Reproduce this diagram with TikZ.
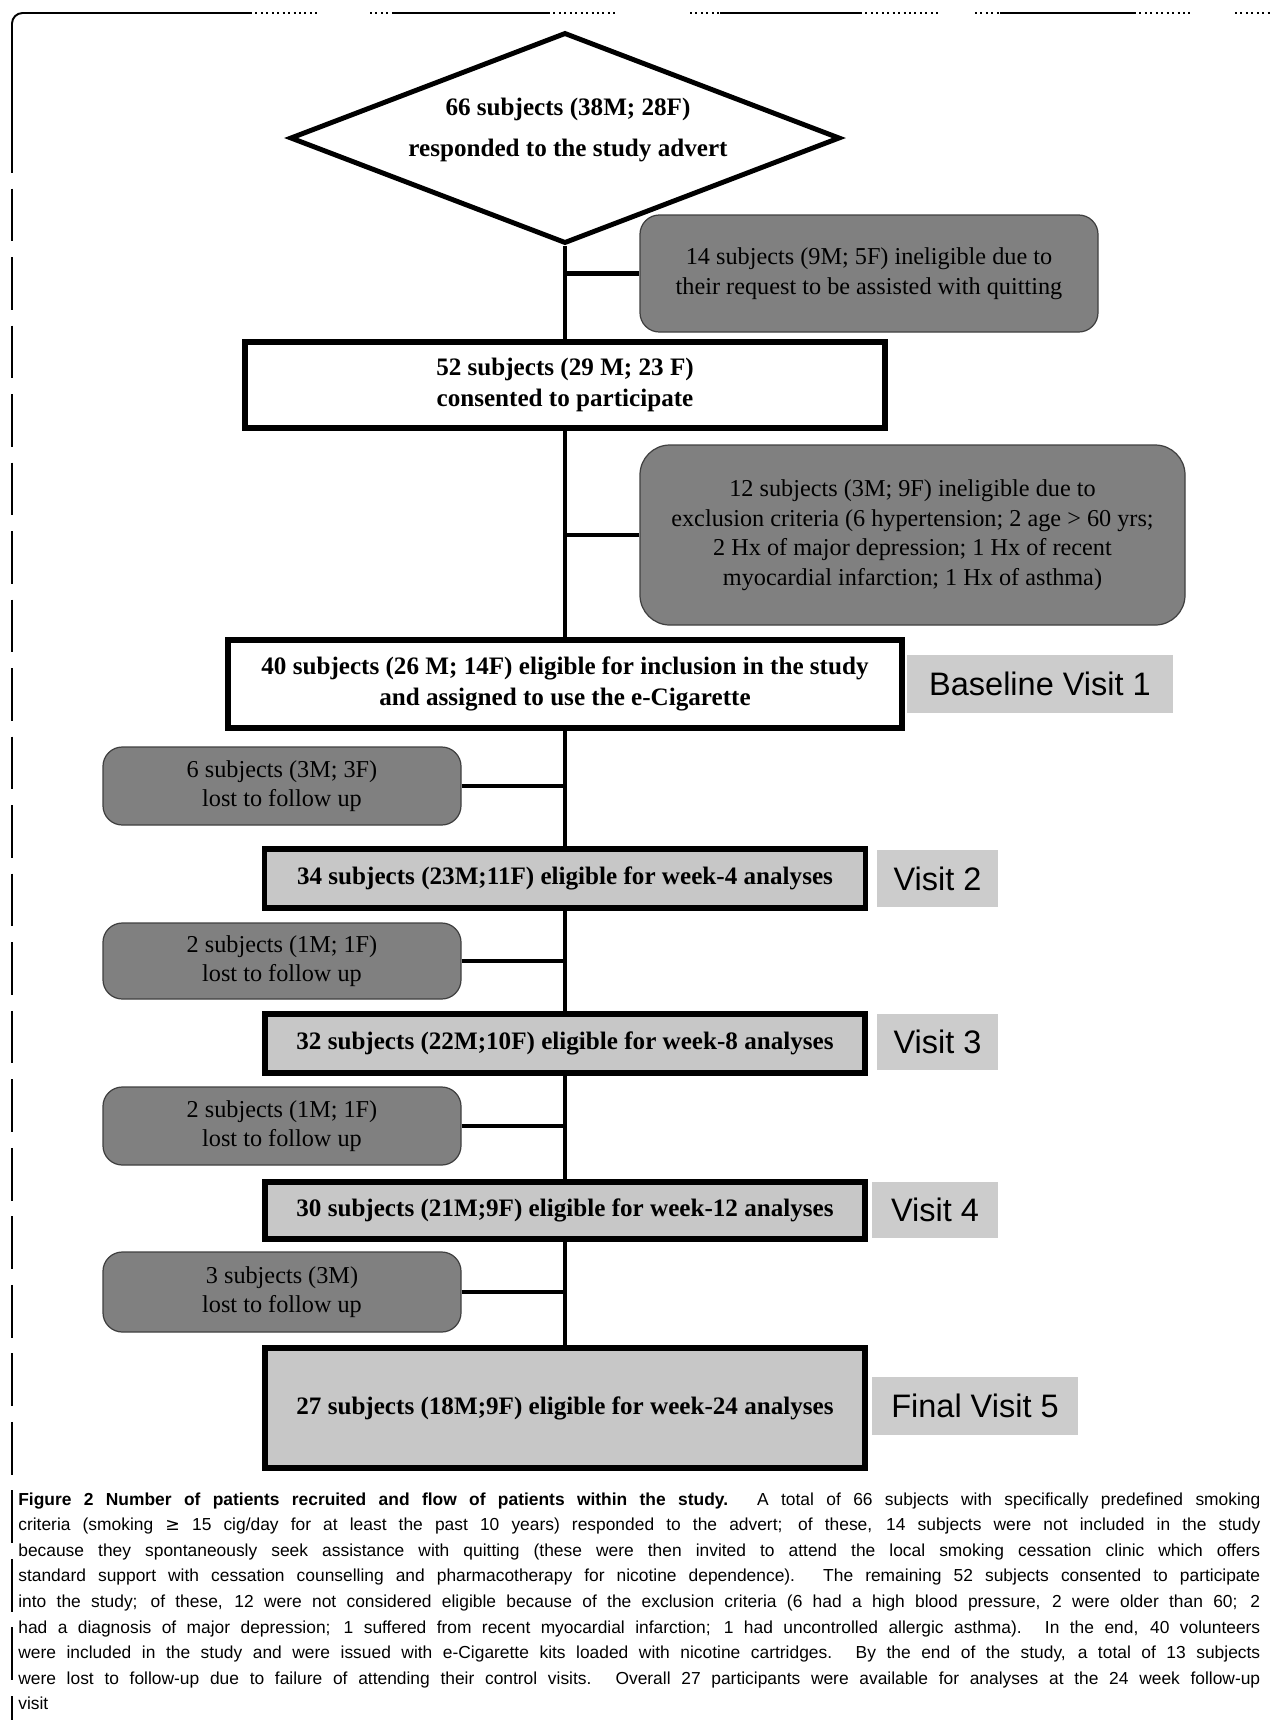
\documentclass[tikz,border=0pt]{standalone}
\usepackage{fontspec}
\setmainfont{Liberation Serif}
\newfontfamily\capfont{Liberation Sans}
\newfontfamily\visfont{Liberation Sans}
\newfontfamily\symfont{DejaVu Sans}
\usetikzlibrary{shapes.geometric}
\newlength\upx
\setlength\upx{0.02cm}
\begin{document}
\begin{tikzpicture}[x=0.02cm,y=-0.02cm,
  mainbox/.style={draw, line width=2.9pt, inner sep=0pt, align=center,
    font=\fontsize{14.3}{17.8}\selectfont\bfseries},
  graybox/.style={mainbox, fill=black!22},
  sidebox/.style={draw=black!75, line width=0.7pt, fill=black!50, rounded corners=11pt,
    inner sep=0pt, align=center, font=\fontsize{13.8}{16.8}\selectfont},
  visitlbl/.style={fill=black!20, inner sep=0pt, font=\visfont\fontsize{18.5}{20}\selectfont},
  link/.style={line width=2.7pt},
  frame/.style={line width=1.1pt},
  capline/.style={anchor=base west, inner sep=0pt, font=\capfont\fontsize{9.9}{12}\selectfont}]
\useasboundingbox (0,0) rectangle (1270,1725);

% scanned frame (top and left)
\draw[frame, rounded corners=6pt] (12,120) -- (12,13) -- (250,13);
\draw[frame, dotted] (250,13) -- (318,13);
\draw[frame, dotted] (370,13) -- (392,13);
\draw[frame] (392,13) -- (548,13);
\draw[frame, dotted] (548,13) -- (617,13);
\draw[frame, dotted] (690,13) -- (720,13);
\draw[frame] (720,13) -- (860,13);
\draw[frame, dotted] (860,13) -- (940,13);
\draw[frame, dotted] (975,13) -- (1000,13);
\draw[frame] (1000,13) -- (1134,13);
\draw[frame, dotted] (1134,13) -- (1190,13);
\draw[frame, dotted] (1235,13) -- (1270,13);
\draw[frame, dash pattern=on 30pt off 9pt] (12,120) -- (12,1720);

% flow chart
\node[diamond, draw, line width=2.8pt, inner sep=0pt,
      minimum width=550\upx, minimum height=211\upx] (dia) at (565,138) {};
\node[align=center, inner sep=0pt, font=\fontsize{14.3}{23.8}\selectfont\bfseries] (dtxt) at (568,130)
  {66 subjects (38M; 28F)\\responded to the study advert};

\node[mainbox, minimum width=640\upx, minimum height=86\upx] (b2) at (565,385)
  {52 subjects (29 M; 23 F)\\consented to participate};
\node[mainbox, minimum width=674\upx, minimum height=88\upx] (b3) at (565,684)
  {40 subjects (26 M; 14F) eligible for inclusion in the study\\and assigned to use the e-Cigarette};
\node[graybox, minimum width=601\upx, minimum height=59\upx] (b4) at (565,878.5)
  {34 subjects (23M;11F) eligible for week-4 analyses};
\node[graybox, minimum width=600\upx, minimum height=59\upx] (b5) at (565,1043.5)
  {32 subjects (22M;10F) eligible for week-8 analyses};
\node[graybox, minimum width=600\upx, minimum height=57\upx] (b6) at (565,1210.5)
  {30 subjects (21M;9F) eligible for week-12 analyses};
\node[graybox, minimum width=600\upx, minimum height=120\upx] (b7) at (565,1408)
  {27 subjects (18M;9F) eligible for week-24 analyses};

% side boxes
\node[sidebox, minimum width=458\upx, minimum height=117\upx] (s1) at (869,273.5)
  {14 subjects (9M; 5F) ineligible due to\\their request to be assisted with quitting};
\node[sidebox, rounded corners=17pt, minimum width=545\upx, minimum height=180\upx] (s2) at (912.5,535)
  {12 subjects (3M; 9F) ineligible due to\\exclusion criteria (6 hypertension; 2 age > 60 yrs;\\2 Hx of major depression; 1 Hx of recent\\myocardial infarction; 1 Hx of asthma)};
\node[sidebox, minimum width=358\upx, minimum height=78\upx] (la) at (282,786)
  {6 subjects (3M; 3F)\\lost to follow up};
\node[sidebox, minimum width=358\upx, minimum height=76\upx] (lb) at (282,961)
  {2 subjects (1M; 1F)\\lost to follow up};
\node[sidebox, minimum width=358\upx, minimum height=78\upx] (lc) at (282,1126)
  {2 subjects (1M; 1F)\\lost to follow up};
\node[sidebox, minimum width=358\upx, minimum height=80\upx] (ld) at (282,1292)
  {3 subjects (3M)\\lost to follow up};

% visit labels
\node[visitlbl, minimum width=266\upx, minimum height=58\upx] (v1) at (1040,684) {Baseline Visit 1};
\node[visitlbl, minimum width=121\upx, minimum height=57\upx] (v2) at (937.5,878.5) {Visit 2};
\node[visitlbl, minimum width=121\upx, minimum height=56\upx] (v3) at (937.5,1042) {Visit 3};
\node[visitlbl, minimum width=126\upx, minimum height=56\upx] (v4) at (935,1210) {Visit 4};
\node[visitlbl, minimum width=206\upx, minimum height=58\upx] (v5) at (975,1406) {Final Visit 5};

% main vertical flow
\draw[link] (dia.south) -- (b2.north);
\draw[link] (b2.south) -- (b3.north);
\draw[link] (b3.south) -- (b4.north);
\draw[link] (b4.south) -- (b5.north);
\draw[link] (b5.south) -- (b6.north);
\draw[link] (b6.south) -- (b7.north);

% branches
\draw[link] (s1.west) -- (s1.west -| b2.north);
\draw[link] (s2.west) -- (s2.west -| b2.south);
\draw[link] (la.east) -- (la.east -| b3.south);
\draw[link] (lb.east) -- (lb.east -| b4.south);
\draw[link] (lc.east) -- (lc.east -| b5.south);
\draw[link] (ld.east) -- (ld.east -| b6.south);

% caption
\node[capline] (c1) at (18,1505) {\makebox[1242\upx][s]{{\bfseries Figure 2 Number of patients recruited and flow of patients within the study.} A total of 66 subjects with specifically predefined smoking}};
\node[capline] (c2) at (18,1530.6) {\makebox[1242\upx][s]{criteria (smoking {\symfont ≥} 15 cig/day for at least the past 10 years) responded to the advert; of these, 14 subjects were not included in the study}};
\node[capline] (c3) at (18,1556.2) {\makebox[1242\upx][s]{because they spontaneously seek assistance with quitting (these were then invited to attend the local smoking cessation clinic which offers}};
\node[capline] (c4) at (18,1581.8) {\makebox[1242\upx][s]{standard support with cessation counselling and pharmacotherapy for nicotine dependence). The remaining 52 subjects consented to participate}};
\node[capline] (c5) at (18,1607.4) {\makebox[1242\upx][s]{into the study; of these, 12 were not considered eligible because of the exclusion criteria (6 had a high blood pressure, 2 were older than 60; 2}};
\node[capline] (c6) at (18,1633) {\makebox[1242\upx][s]{had a diagnosis of major depression; 1 suffered from recent myocardial infarction; 1 had uncontrolled allergic asthma). In the end, 40 volunteers}};
\node[capline] (c7) at (18,1658.6) {\makebox[1242\upx][s]{were included in the study and were issued with e-Cigarette kits loaded with nicotine cartridges. By the end of the study, a total of 13 subjects}};
\node[capline] (c8) at (18,1684.2) {\makebox[1242\upx][s]{were lost to follow-up due to failure of attending their control visits. Overall 27 participants were available for analyses at the 24 week follow-up}};
\node[capline] (c9) at (18,1709.8) {visit};
\end{tikzpicture}
\end{document}
